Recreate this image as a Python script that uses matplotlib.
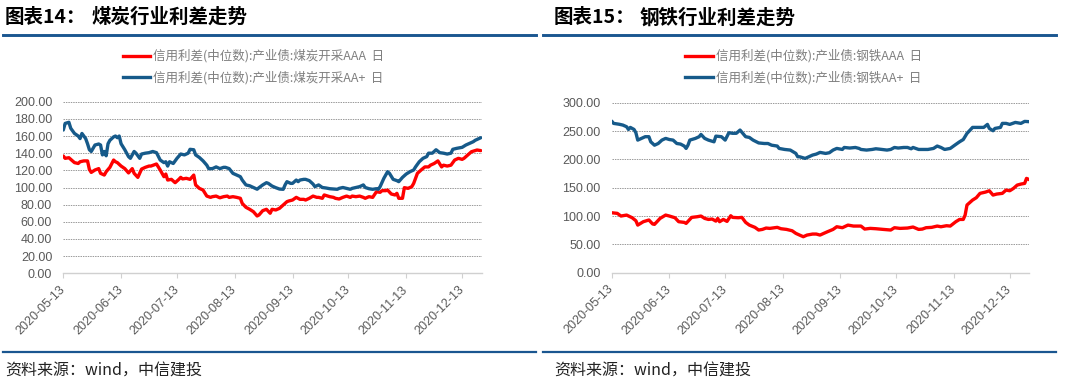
import numpy as np
import pandas as pd
import matplotlib
matplotlib.use("Agg")
import matplotlib.pyplot as plt
from matplotlib.lines import Line2D

# ---------------- data (days since 2020-05-13, spread in bp) ----------------
START = "2020-05-13"

coal_aap_days = [0, 1, 3, 4, 6, 8, 9, 10, 12, 13, 14, 15, 17, 19, 20, 21, 22, 23, 24, 25,
                 27, 28, 29, 30, 31, 33, 35, 36, 38, 39, 41, 42, 44, 46, 48, 50, 52, 54, 55, 56,
                 57, 59, 61, 63, 65, 67, 68, 70, 71, 73, 75, 77, 78, 80, 82, 84, 86, 87, 89, 91,
                 93, 95, 96, 98, 100, 102, 104, 105, 107, 109, 110, 112, 114, 116, 118, 119, 120,
                 122, 123, 125, 126, 127, 129, 130, 132, 134, 135, 137, 139, 141, 143, 145, 147,
                 148, 150, 152, 154, 155, 157, 159, 161, 162, 164, 166, 168, 169, 170, 172, 174,
                 175, 177, 179, 180, 182, 184, 186, 188, 189, 191, 193, 195, 196, 198, 200, 202,
                 204, 206, 208, 209, 211, 214, 216, 218, 220, 221, 224]
coal_aap = [167, 174.7, 176, 169, 163, 160, 157, 163, 157, 151, 144, 142, 149.5, 150.7, 149.5,
            138, 142, 137, 151, 155, 159, 160, 158, 160, 151, 144, 136, 134, 142, 140, 134, 139,
            140, 140.6, 142, 140.6, 132, 129, 130, 125, 130, 128, 134, 139, 138, 140, 144.5, 144,
            138, 135, 131, 126, 122, 122, 124, 122, 123.5, 123.5, 122, 116.5, 114.5, 112.6, 108.7,
            103, 102, 100, 98, 99.8, 103, 105.6, 104.8, 101.7, 99.8, 98.2, 97.9, 103, 106.8,
            104.8, 104.8, 108.7, 106.8, 108.7, 109.5, 109.5, 108, 104, 101, 103, 100, 99.4, 98.6,
            98.2, 97.9, 99, 100, 99, 97.9, 99, 100, 101, 103, 100, 98.6, 97.9, 98.6, 97.9, 101,
            110.7, 118.4, 116.5, 109.5, 108, 106.8, 111.8, 115.7, 118.4, 120.4, 124, 130, 134,
            136, 140, 140, 144, 140.6, 140, 139, 140, 144.5, 145.6, 146.8, 149.5, 151.4, 153.4,
            155, 158]

coal_aaa_days = [0, 1, 3, 4, 6, 8, 9, 11, 13, 14, 15, 17, 19, 20, 22, 23, 25, 27, 28, 29,
                 31, 33, 35, 37, 38, 40, 42, 44, 46, 47, 50, 52, 54, 55, 56, 58, 60, 62, 63, 64,
                 66, 68, 70, 71, 73, 75, 77, 79, 80, 82, 84, 86, 88, 89, 91, 93, 95, 96, 98, 100,
                 102, 104, 105, 107, 109, 111, 112, 114, 116, 118, 120, 121, 123, 125, 127, 129,
                 130, 132, 134, 136, 137, 139, 140, 143, 145, 146, 148, 150, 152, 154, 155, 157,
                 159, 161, 162, 164, 166, 168, 170, 171, 173, 174, 176, 178, 179, 180, 182, 183,
                 185, 187, 188, 190, 192, 194, 196, 197, 199, 201, 203, 204, 206, 208, 210, 212,
                 214, 215, 217, 219, 221, 222, 224]
coal_aaa = [136.7, 134, 134.7, 132.8, 129, 128, 130, 131, 131, 121, 117.6, 120.4, 122, 116.5,
            114.5, 118.4, 123.5, 132, 130, 129, 125, 122, 117, 122, 116.5, 111.8, 121.5, 123.5,
            125, 125, 127.4, 120.4, 112.6, 115.7, 108.7, 109.5, 105.6, 109.5, 111.8, 110, 110.7,
            109.5, 114.5, 103, 99, 97, 90, 88.5, 89.3, 90, 88, 89.3, 90, 88.5, 89.3, 88.5, 87.4,
            81.5, 76.9, 74.6, 71.8, 66.8, 68, 73, 74.6, 70, 74.6, 73.8, 75.7, 79.6, 83.5, 84.3,
            85.4, 88.5, 86.2, 86.2, 85.4, 87.4, 90, 88.5, 88.5, 87.4, 91.3, 89.3, 88.5, 87.4,
            86.6, 88.5, 90, 88.5, 90, 89.3, 90, 88.5, 87.4, 89.3, 88.5, 95, 94.4, 96.3, 96.3, 97,
            92.4, 91.3, 93.2, 87.4, 87.4, 99.8, 99, 101, 104.8, 116.5, 120.4, 124, 124, 126, 128,
            131, 124, 126, 125, 126, 132, 134, 132.8, 134, 137.8, 141.7, 143, 143.7, 143]

steel_aap_days = [0, 1, 4, 6, 8, 9, 10, 12, 13, 14, 16, 18, 20, 21, 23, 25, 27, 29, 31, 33,
                  35, 37, 39, 40, 41, 42, 45, 47, 48, 50, 52, 55, 56, 59, 61, 63, 65, 67, 69, 72,
                  74, 76, 79, 82, 84, 86, 89, 90, 93, 96, 99, 100, 101, 104, 106, 108, 110, 112,
                  115, 117, 119, 121, 124, 125, 128, 131, 133, 134, 137, 140, 142, 144, 148, 150,
                  152, 154, 157, 159, 161, 162, 165, 168, 170, 173, 175, 177, 179, 182, 185, 187,
                  189, 191, 193, 194, 197, 200, 202, 203, 205, 206, 209, 210, 212, 214, 217, 220,
                  222, 225]
steel_aap = [267.5, 263.5, 262, 260.5, 257.6, 252.8, 256.4, 252.8, 247, 234, 237, 240, 240, 231,
             225, 228, 234, 237, 235, 234, 228, 227, 223.5, 219.3, 225, 234, 237, 240, 244, 237,
             234, 231, 241, 240, 234, 247, 246, 246, 251.7, 240, 238.7, 234, 229, 228, 228, 225,
             223.5, 219.3, 217.5, 216.4, 210.5, 204.6, 204.6, 201.7, 204.6, 207.6, 209.3, 212.3,
             210.5, 211.7, 216.4, 219.3, 217.5, 221, 220, 221, 219.3, 217.5, 216.4, 217.5, 218.7,
             218, 216.4, 217.5, 221, 220, 221, 221, 218.7, 221, 217.5, 217.5, 217.5, 219.3, 223.5,
             221, 217.5, 219.3, 226.4, 231, 235, 245.8, 252.8, 256.4, 256.4, 256.4, 261.7, 254.6,
             250.5, 254.6, 256.4, 263.5, 263.5, 261.7, 265.2, 263.5, 267, 266.4]

steel_aaa_days = [0, 3, 5, 8, 11, 13, 14, 17, 20, 22, 23, 26, 29, 31, 34, 36, 39, 40, 43, 46,
                  48, 50, 52, 54, 56, 57, 58, 60, 62, 64, 65, 68, 70, 72, 74, 77, 79, 81, 83, 85,
                  89, 91, 94, 97, 99, 101, 103, 105, 108, 110, 112, 114, 116, 119, 121, 124, 127,
                  130, 134, 136, 139, 142, 146, 150, 152, 155, 159, 162, 165, 167, 169, 172, 175,
                  177, 180, 182, 185, 187, 189, 190, 191, 194, 196, 198, 201, 203, 205, 207, 210,
                  212, 214, 216, 218, 220, 222, 223, 225]
steel_aaa = [105.8, 104.7, 100, 101.7, 97, 91.7, 84, 90, 93, 86, 85.3, 95.8, 101.7, 100, 97, 90,
             88.8, 87, 97.6, 98.8, 100, 95.8, 94, 94.7, 91, 95.8, 90, 94, 90.5, 100.5, 97.6, 97,
             97.6, 88.8, 84, 80, 75.3, 76.4, 78.8, 78.2, 80, 77.6, 76.4, 74, 69.4, 66.4, 63.5,
             66.4, 68.2, 68.2, 66.4, 69.4, 72.3, 76.4, 81.1, 79.4, 84, 82.3, 82.3, 77, 78.2, 77.6,
             76.4, 75.3, 79.4, 78.2, 78.8, 80.6, 76.4, 77, 79.4, 80, 82.3, 81.1, 82.9, 82.3, 90,
             94, 94, 101.7, 119.4, 128.2, 132.3, 140, 142.3, 144.6, 137, 138.8, 140, 145.8, 144.6,
             148.8, 154.6, 156.4, 157.6, 166.4, 163.5]

tick_labels = ["2020-05-13", "2020-06-13", "2020-07-13", "2020-08-13",
               "2020-09-13", "2020-10-13", "2020-11-13", "2020-12-13"]

# ---------------- style ----------------
RED = "#FF0000"
BLUE = "#165A8A"
HEAD = "#1A5690"
GRID = "#999999"
AXIS = "#D0D0D0"
TXT = "#595959"
LEG = "#7F7F7F"
CJK = ["Noto Sans CJK SC", "DejaVu Sans"]

plt.rcParams["font.family"] = ["Liberation Sans", "Noto Sans CJK SC", "DejaVu Sans"]

W, H = 1080, 387
fig = plt.figure(figsize=(W / 100, H / 100), dpi=100)


def fx(px):
    return px / W


def fy(py):
    return 1 - py / H


def to_dates(days):
    return pd.Timestamp(START) + pd.to_timedelta(np.asarray(days), unit="D")


panels = [
    dict(rect=(63.3, 101.7, 481.7, 273.3), ymax=200, ystep=20,
         num="图表14：", title="煤炭行业利差走势", num_x=5, title_x=92,
         head=(3, 536),
         series=[(coal_aaa_days, coal_aaa, RED, "信用利差(中位数):产业债:煤炭开采AAA  日"),
                 (coal_aap_days, coal_aap, BLUE, "信用利差(中位数):产业债:煤炭开采AA+  日")],
         leg_x=(123, 150)),
    dict(rect=(611.7, 102.7, 1029.3, 272.7), ymax=300, ystep=50,
         num="图表15：", title="钢铁行业利差走势", num_x=554, title_x=640,
         head=(543, 1056),
         series=[(steel_aaa_days, steel_aaa, RED, "信用利差(中位数):产业债:钢铁AAA  日"),
                 (steel_aap_days, steel_aap, BLUE, "信用利差(中位数):产业债:钢铁AA+  日")],
         leg_x=(685, 712.7)),
]

for p in panels:
    x0, y0, x1, y1 = p["rect"]
    ax = fig.add_axes([fx(x0), fy(y1), fx(x1) - fx(x0), fy(y0) - fy(y1)])
    for days, vals, col, lab in p["series"]:
        ax.plot(to_dates(days), vals, color=col, lw=2.4, solid_joinstyle="round",
                solid_capstyle="round", zorder=3)
    ax.set_ylim(0, p["ymax"])
    ax.set_yticks(np.arange(0, p["ymax"] + 1, p["ystep"]))
    ax.yaxis.set_major_formatter(matplotlib.ticker.FuncFormatter(lambda v, _: f"{v:.2f}"))
    ax.set_xlim(pd.Timestamp(START), pd.Timestamp(START) + pd.Timedelta(days=224.5))
    ax.set_xticks(pd.to_datetime(tick_labels))
    ax.set_xticklabels(tick_labels, rotation=45, ha="right", va="center",
                       rotation_mode="anchor")
    ax.grid(axis="y", color=GRID, lw=0.7, ls=(0, (1.5, 1)), zorder=1)
    ax.set_axisbelow(True)
    for s in ("top", "right", "left"):
        ax.spines[s].set_visible(False)
    ax.spines["bottom"].set_color(AXIS)
    ax.spines["bottom"].set_linewidth(1.0)
    ax.tick_params(axis="y", length=0, pad=8, labelsize=9, labelcolor=TXT)
    ax.tick_params(axis="x", length=3.5, width=0.8, color=AXIS, pad=7,
                   labelsize=9, labelcolor=TXT)

    # title + rules
    fig.text(fx(p["num_x"]), fy(17.5), p["num"], fontsize=14, fontweight="bold",
             family=CJK, va="center", ha="left", color="#000000")
    fig.text(fx(p["title_x"]), fy(17.5), p["title"], fontsize=14, fontweight="bold",
             family=CJK, va="center", ha="left", color="#000000")
    hx0, hx1 = p["head"]
    fig.add_artist(Line2D([fx(hx0), fx(hx1)], [fy(34.7), fy(34.7)], color=HEAD, lw=2.1))
    fig.add_artist(Line2D([fx(hx0), fx(hx1)], [fy(352), fy(352)], color=HEAD, lw=1.6))
    fig.text(fx(p["num_x"]), fy(371), "资料来源：wind，中信建投", fontsize=11.5,
             family=CJK, va="center", ha="left", color="#222222", style="italic")

    # legend
    lx0, lx1 = p["leg_x"]
    for i, (days, vals, col, lab) in enumerate(p["series"]):
        yy = 56 + i * 21.3
        fig.add_artist(Line2D([fx(lx0), fx(lx1)], [fy(yy), fy(yy)], color=col, lw=2.4))
        fig.text(fx(lx1 + 3), fy(yy), lab, fontsize=9, family=CJK, color=LEG,
                 va="center", ha="left")

fig.savefig("out.png", dpi=100)
